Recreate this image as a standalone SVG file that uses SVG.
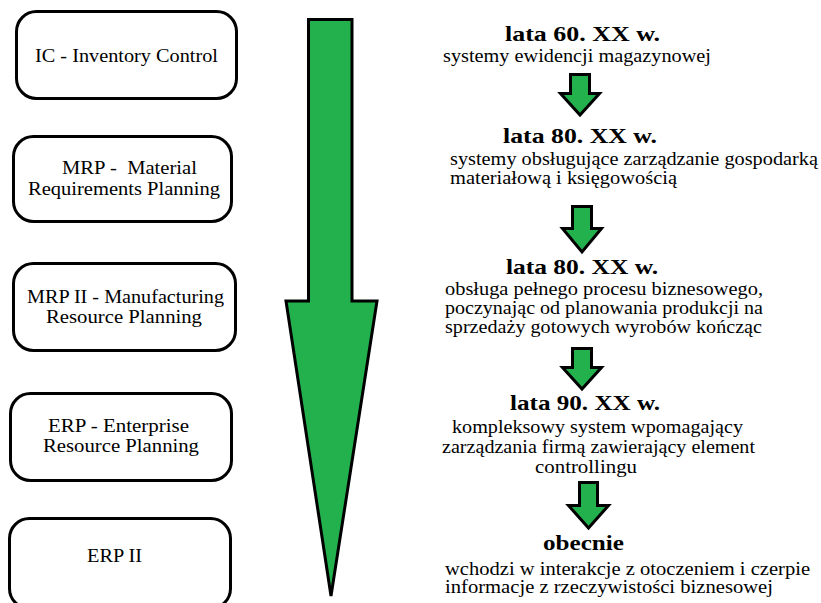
<svg xmlns="http://www.w3.org/2000/svg" width="821" height="603" viewBox="0 0 821 603" font-family="'Liberation Serif', 'Times New Roman', serif">
  <style>
    .box { fill: #ffffff; stroke: #000000; stroke-width: 3; }
    .arrow { fill: #22b14c; stroke: #000000; stroke-width: 3; stroke-linejoin: miter; }
    .lbl { font-size: 19px; fill: #000000; }
    .head { font-size: 22px; font-weight: bold; fill: #000000; }
    .body { font-size: 18.5px; fill: #000000; }
  </style>
  <rect width="821" height="603" fill="#ffffff"/>

  <!-- system generations (left column) -->
  <g id="node-ic">
    <rect class="box" x="16.5" y="11.5" width="220" height="87" rx="20"/>
    <text class="lbl" x="35" y="62" textLength="183" lengthAdjust="spacingAndGlyphs">IC - Inventory Control</text>
  </g>
  <g id="node-mrp">
    <rect class="box" x="13.5" y="136.5" width="218" height="85" rx="20"/>
    <text class="lbl" x="62" y="174" textLength="135" lengthAdjust="spacingAndGlyphs" xml:space="preserve">MRP -  Material</text>
    <text class="lbl" x="28" y="195" textLength="192" lengthAdjust="spacingAndGlyphs">Requirements Planning</text>
  </g>
  <g id="node-mrp2">
    <rect class="box" x="13.5" y="263.5" width="222" height="87" rx="20"/>
    <text class="lbl" x="27" y="303" textLength="197" lengthAdjust="spacingAndGlyphs">MRP II - Manufacturing</text>
    <text class="lbl" x="46" y="323" textLength="156" lengthAdjust="spacingAndGlyphs">Resource Planning</text>
  </g>
  <g id="node-erp">
    <rect class="box" x="10.5" y="393.5" width="221" height="87" rx="20"/>
    <text class="lbl" x="48" y="432" textLength="141" lengthAdjust="spacingAndGlyphs">ERP - Enterprise</text>
    <text class="lbl" x="43" y="452" textLength="156" lengthAdjust="spacingAndGlyphs">Resource Planning</text>
  </g>
  <g id="node-erp2">
    <rect class="box" x="9.5" y="518.5" width="221" height="90" rx="20"/>
    <text class="lbl" x="87" y="562" textLength="55" lengthAdjust="spacingAndGlyphs">ERP II</text>
  </g>

  <!-- timeline arrows -->
  <g id="connectors">
    <path class="arrow" d="M308.5,19.5 H352 V301 H377 L331,596 L286,301 H308.5 Z"/>
    <path class="arrow" d="M570.5,74.5 H589.5 V93.5 H599.5 L580,115 L560.5,93.5 H570.5 Z"/>
    <path class="arrow" d="M572.5,206.5 H591.5 V228.5 H601.5 L582,252 L562.5,228.5 H572.5 Z"/>
    <path class="arrow" d="M572.5,348.5 H591.5 V367.5 H601.5 L582,389 L562.5,367.5 H572.5 Z"/>
    <path class="arrow" d="M579.5,482.5 H597.5 V505.5 H608.5 L588.5,528 L568.5,505.5 H579.5 Z"/>
  </g>

  <!-- period descriptions (right column) -->
  <g id="node-60s">
    <text class="head" x="505" y="41" textLength="155" lengthAdjust="spacingAndGlyphs">lata 60. XX w.</text>
    <text class="body" x="443" y="62" textLength="268" lengthAdjust="spacingAndGlyphs">systemy ewidencji magazynowej</text>
  </g>
  <g id="node-80s-a">
    <text class="head" x="503" y="143" textLength="154" lengthAdjust="spacingAndGlyphs">lata 80. XX w.</text>
    <text class="body" x="450" y="165" textLength="368" lengthAdjust="spacingAndGlyphs">systemy obsługujące zarządzanie gospodarką</text>
    <text class="body" x="450" y="184" textLength="227" lengthAdjust="spacingAndGlyphs">materiałową i księgowością</text>
  </g>
  <g id="node-80s-b">
    <text class="head" x="506" y="274" textLength="152" lengthAdjust="spacingAndGlyphs">lata 80. XX w.</text>
    <text class="body" x="445" y="295" textLength="318" lengthAdjust="spacingAndGlyphs">obsługa pełnego procesu biznesowego,</text>
    <text class="body" x="445" y="314" textLength="318" lengthAdjust="spacingAndGlyphs">poczynając od planowania produkcji na</text>
    <text class="body" x="445" y="333" textLength="317" lengthAdjust="spacingAndGlyphs">sprzedaży gotowych wyrobów kończąc</text>
  </g>
  <g id="node-90s">
    <text class="head" x="510" y="410" textLength="150" lengthAdjust="spacingAndGlyphs">lata 90. XX w.</text>
    <text class="body" x="452" y="433" textLength="291" lengthAdjust="spacingAndGlyphs">kompleksowy system wpomagający</text>
    <text class="body" x="442" y="453" textLength="313" lengthAdjust="spacingAndGlyphs">zarządzania firmą zawierający element</text>
    <text class="body" x="535" y="473" textLength="102" lengthAdjust="spacingAndGlyphs">controllingu</text>
  </g>
  <g id="node-now">
    <text class="head" x="543" y="550" textLength="81" lengthAdjust="spacingAndGlyphs">obecnie</text>
    <text class="body" x="445" y="575" textLength="365" lengthAdjust="spacingAndGlyphs">wchodzi w interakcje z otoczeniem i czerpie</text>
    <text class="body" x="445" y="593" textLength="328" lengthAdjust="spacingAndGlyphs">informacje z rzeczywistości biznesowej</text>
  </g>
</svg>
